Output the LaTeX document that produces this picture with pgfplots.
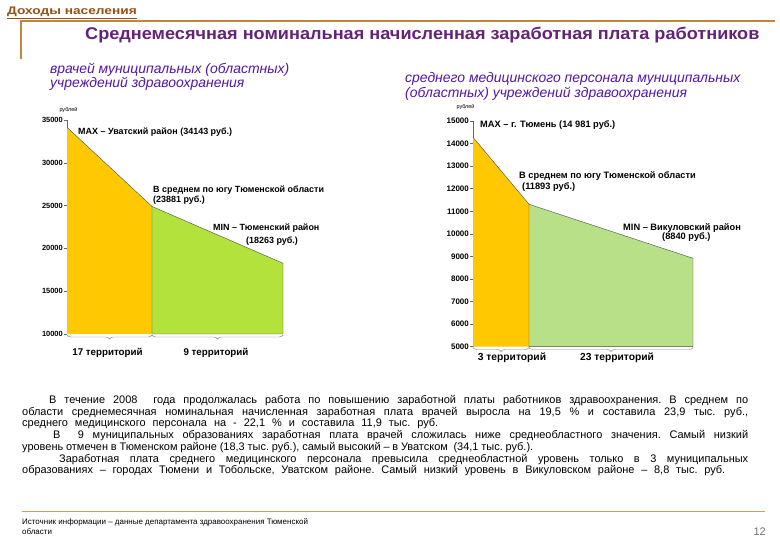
\documentclass[border=0pt]{standalone}
\usepackage{fontspec}
\setmainfont{Liberation Sans}
\usepackage{pgfplots}
\pgfplotsset{compat=1.18}
\usetikzlibrary{decorations.pathreplacing}

\definecolor{gold}{RGB}{255,200,0}
\definecolor{lgreen}{RGB}{180,226,60}
\definecolor{rgreen}{RGB}{184,224,136}
\definecolor{brownhead}{RGB}{150,82,20}
\definecolor{tanline}{RGB}{190,135,60}
\definecolor{titlec}{RGB}{102,34,120}
\definecolor{subc}{RGB}{82,22,170}

\newcommand{\fs}[1]{\fontsize{#1}{#1}\selectfont}
% one justified line of the paragraph: x, baseline (from top), width, text
\newcommand{\pl}[4]{\node[anchor=base west, inner sep=0, font=\fs{11}] at (#1,540-#2) {\frenchspacing\makebox[#3bp][s]{#4}};}

\pgfplotsset{slide/.style={
    scale only axis, anchor=south west, clip=false,
    axis x line=none, axis y line*=left,
    y axis line style={black!60, line width=0.5bp},
    ytick style={black!60, line width=0.5bp},
    tick align=outside, major tick length=3bp,
    scaled y ticks=false,
    yticklabel style={/pgf/number format/1000 sep={},
        /pgf/number format/assume math mode=true, inner sep=1bp},
}}

\begin{document}
\begin{tikzpicture}[x=1bp,y=1bp]
\fill[white] (0,0) rectangle (780,540);
\useasboundingbox (0,0) rectangle (780,540);

% header
\node[anchor=base west, inner sep=0, text=brownhead, font=\bfseries\fs{11}] at (7,525) {\scalebox{1.25}[1]{\underline{Доходы населения}}};
\draw[tanline, line width=2bp] (21,481) |- (775,519);
\node[anchor=base west, inner sep=0, text=titlec, font=\bfseries\fs{17}] at (85,500)
  {\scalebox{1.07}[1]{Среднемесячная номинальная начисленная заработная плата работников}};
\node[anchor=base west, inner sep=0, text=subc, font=\itshape\fs{14}] at (50,466.5) {врачей муниципальных (областных)};
\node[anchor=base west, inner sep=0, text=subc, font=\itshape\fs{14}] at (50,452.5) {учреждений здравоохранения};
\node[anchor=base west, inner sep=0, text=subc, font=\itshape\fs{14}] at (405,457.5) {среднего медицинского персонала муниципальных};
\node[anchor=base west, inner sep=0, text=subc, font=\itshape\fs{14}] at (405,442.5) {(областных) учреждений здравоохранения};

% left chart: doctors
\begin{axis}[slide, at={(67bp,206bp)}, width=216bp, height=214bp,
    xmin=0, xmax=216, ymin=10000, ymax=35000,
    ytick={10000,15000,20000,25000,30000,35000},
    yticklabel style={font=\bfseries\fs{7.5}}]
\addplot[fill=gold, draw=none] coordinates {(0,10000) (0,34143) (85,24900) (85,10000)} -- cycle;
\addplot[black!70, line width=0.4bp] coordinates {(0,34143) (85,24900)};
\addplot[fill=lgreen, draw=black!70, line width=0.4bp] coordinates {(85,10000) (85,24900) (216,18263) (216,10000)} -- cycle;
\end{axis}
\node[font=\fs{5.5}] at (68.5,430) {рублей};

\begin{scope}[font=\bfseries\fs{9}, every node/.style={anchor=base west, inner sep=0}]
\node at (78,405.5) {MAX – Уватский район (34143 руб.)};
\node at (153,347.2) {В среднем по югу Тюменской области};
\node at (153,337.2) {(23881 руб.)};
\node at (213,309.2) {MIN – Тюменский район};
\node at (246,296.6) {(18263 руб.)};
\end{scope}
\draw[decorate, decoration={brace, mirror, amplitude=4bp}, black!50, line width=0.4bp] (67,205) -- (152,205);
\draw[decorate, decoration={brace, mirror, amplitude=4bp}, black!50, line width=0.4bp] (152,205) -- (283,205);
\node[font=\bfseries\fs{9.8}] at (107.5,187.3) {17 территорий};
\node[font=\bfseries\fs{9.8}] at (216,187.3) {9 территорий};

% right chart: nursing staff
\begin{axis}[slide, at={(473bp,193.3bp)}, width=220bp, height=225.7bp,
    xmin=0, xmax=220, ymin=5000, ymax=15000,
    ytick={5000,6000,...,15000},
    yticklabel style={font=\bfseries\fs{8}}]
\addplot[fill=gold, draw=none] coordinates {(0,5000) (0,14280) (56,11310) (56,5000)} -- cycle;
\addplot[black!70, line width=0.4bp] coordinates {(0,14280) (56,11310)};
\addplot[fill=rgreen, draw=black!70, line width=0.4bp] coordinates {(56,5000) (56,11310) (220,8917) (220,5000)} -- cycle;
\end{axis}
\node[font=\fs{5.5}] at (465.5,433) {рублей};

\begin{scope}[font=\bfseries\fs{9.3}, every node/.style={anchor=base west, inner sep=0}]
\node at (480,412) {MAX – г. Тюмень (14 981 руб.)};
\node at (519,361) {В среднем по югу Тюменской области};
\node at (522,350) {(11893 руб.)};
\node at (623,309.3) {MIN – Викуловский район};
\node at (662,300) {(8840 руб.)};
\end{scope}
\draw[decorate, decoration={brace, mirror, amplitude=4bp}, black!50, line width=0.4bp] (473,192.5) -- (529,192.5);
\draw[decorate, decoration={brace, mirror, amplitude=4bp}, black!50, line width=0.4bp] (529,192.5) -- (693,192.5);
\node[font=\bfseries\fs{10.3}] at (512,182) {3 территорий};
\node[font=\bfseries\fs{10.3}] at (617,182) {23 территорий};

% commentary
\pl{49}{403.5}{699}{В течение 2008~ года продолжалась работа по повышению заработной платы работников здравоохранения. В среднем по}
\pl{22}{415.25}{726}{области среднемесячная номинальная начисленная заработная плата врачей выросла на 19,5 \% и составила 23,9 тыс. руб.,}
\pl{22}{427}{416}{среднего медицинского персонала на - 22,1 \% и составила 11,9 тыс. руб.}
\pl{53}{438.75}{695}{В~ 9 муниципальных образованиях заработная плата врачей сложилась ниже среднеобластного значения. Самый низкий}
\pl{22}{450.5}{511}{уровень отмечен в Тюменском районе (18,3 тыс. руб.), самый высокий – в Уватском~ (34,1 тыс. руб.).}
\pl{59}{462.25}{689}{Заработная плата среднего медицинского персонала превысила среднеобластной уровень только в 3 муниципальных}
\pl{22}{474}{703}{образованиях – городах Тюмени и Тобольске, Уватском районе. Самый низкий уровень в Викуловском районе – 8,8 тыс. руб.}

% footer
\draw[tanline!80, line width=1bp] (22,28) -- (765,28);
\node[anchor=base west, inner sep=0, font=\fs{8}] at (22,15.5) {Источник информации – данные департамента здравоохранения Тюменской};
\node[anchor=base west, inner sep=0, font=\fs{8}] at (22,5.5) {области};
\node[anchor=base east, inner sep=0, font=\fs{11}, text=black!55] at (766,4) {12};
\end{tikzpicture}
\end{document}
